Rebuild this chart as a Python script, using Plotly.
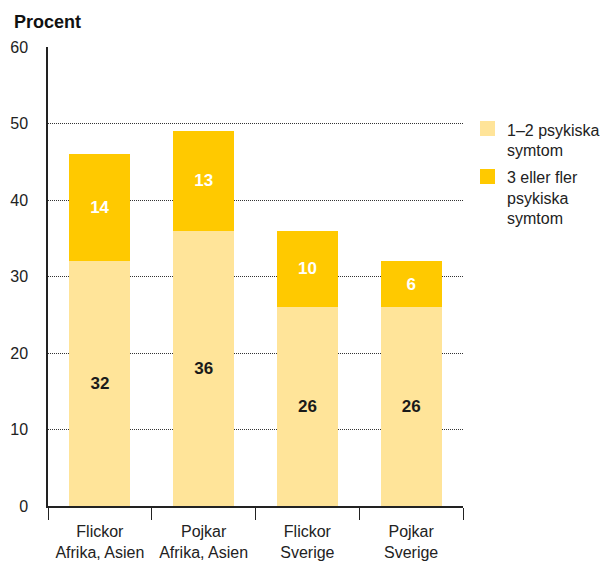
import plotly.graph_objects as go

categories = ["Flickor<br>Afrika, Asien", "Pojkar<br>Afrika, Asien",
              "Flickor<br>Sverige", "Pojkar<br>Sverige"]
few_symptoms = [32, 36, 26, 26]
many_symptoms = [14, 13, 10, 6]
series_names = ["1–2 psykiska<br>symtom", "3 eller fler<br>psykiska<br>symtom"]
y_ticks = [0, 10, 20, 30, 40, 50, 60]

FONT = "Liberation Sans"
LIGHT = "#FFE499"
DARK = "#FFC900"
colors = [LIGHT, DARK]

L, R, T, B = 48, 137, 47, 57
W, H = 600, 563
PW, PH = W - L - R, H - T - B

fig = go.Figure()
fig.add_trace(go.Bar(
    x=categories, y=few_symptoms, name=series_names[0],
    marker=dict(color=LIGHT, line=dict(width=0)),
    text=few_symptoms, textposition="inside", insidetextanchor="middle",
    textfont=dict(family=FONT, size=17, color="#1a1a1a", weight="bold"),
))
fig.add_trace(go.Bar(
    x=categories, y=many_symptoms, name=series_names[1],
    marker=dict(color=DARK, line=dict(width=0)),
    text=many_symptoms, textposition="inside", insidetextanchor="middle",
    textfont=dict(family=FONT, size=17, color="white", weight="bold"),
))

fig.update_layout(
    barmode="stack",
    bargap=0.41,
    width=W, height=H,
    margin=dict(l=L, r=R, t=T, b=B, autoexpand=False),
    plot_bgcolor="white", paper_bgcolor="white",
    font=dict(family=FONT, size=15, color="#222"),
    showlegend=False,
    uniformtext=dict(minsize=10, mode="show"),
)
fig.update_xaxes(
    showline=True, linecolor="#222", linewidth=2,
    ticks="outside", tickson="boundaries", ticklen=12, tickcolor="#222", tickwidth=1,
    tickfont=dict(size=16, color="#222"), ticklabelstandoff=10,
)
fig.update_yaxes(
    range=[0, 60], tickvals=y_ticks,
    showline=True, linecolor="#222", linewidth=1.5,
    showgrid=True, gridcolor="#333", griddash="1px,1px", gridwidth=1,
    zeroline=False, ticks="", ticklabelstandoff=15,
    tickfont=dict(size=16, color="#222"),
)

# Title above the value axis
fig.add_annotation(
    text="<b>Procent</b>", xref="paper", yref="paper", x=(12 - L) / PW, y=1,
    xanchor="left", yanchor="bottom", yshift=13, showarrow=False,
    font=dict(family=FONT, size=18, color="#111"),
)

# Legend: colour squares with wrapped labels to the right of the plot
legend_tops = [121, 169]
LINE_H = 20.5
for name, color, top in zip(series_names, colors, legend_tops):
    fig.add_shape(type="rect", xref="paper", yref="paper",
                  x0=(480 - L) / PW, x1=(495 - L) / PW,
                  y0=1 - (top + 15 - T) / PH, y1=1 - (top - T) / PH,
                  fillcolor=color, line=dict(width=0))
    for i, line in enumerate(name.split("<br>")):
        centre = top + 9 + i * LINE_H
        fig.add_annotation(
            text=line, xref="paper", yref="paper",
            x=(505 - L) / PW, y=1 - (centre - T) / PH,
            xanchor="left", yanchor="middle", align="left", showarrow=False,
            font=dict(family=FONT, size=16, color="#222"),
        )
fig.write_html("out.html")
